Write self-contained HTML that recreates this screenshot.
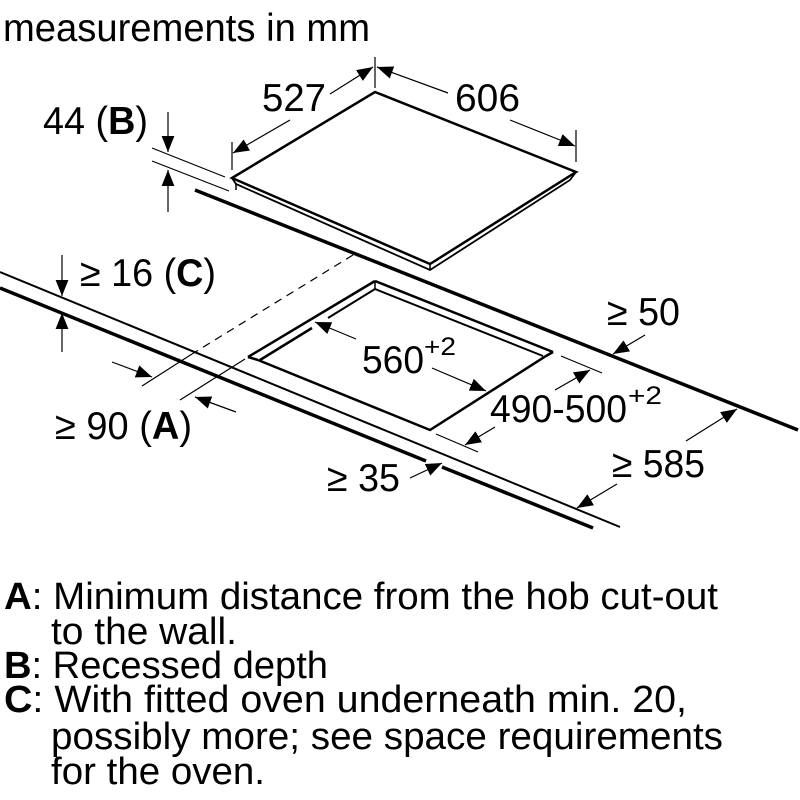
<!DOCTYPE html>
<html><head><meta charset="utf-8"><style>
html,body{margin:0;padding:0;background:#fff;}
svg{display:block;}
text{font-family:"Liberation Sans",Arial,sans-serif;fill:#000;}
</style></head><body>
<svg width="800" height="800" viewBox="0 0 800 800" xmlns="http://www.w3.org/2000/svg">
<defs>
<marker id="a" viewBox="0 0 10 10" refX="10" refY="5" markerWidth="16" markerHeight="16" markerUnits="userSpaceOnUse" orient="auto">
<path d="M0,1 L10,5 L0,9 Z" fill="#000"/></marker>
</defs>
<g stroke="#000" fill="none" stroke-linecap="butt">
<line x1="195" y1="190" x2="798" y2="430" stroke-width="3.5"/>
<polygon points="232,178 236,184 430,270 570,180 576,172 375,92" stroke="none" fill="#fff"/>
<polygon points="232,178 375,92 576,172 430,264" stroke-width="2.5" fill="#fff"/>
<polyline points="232,178 236,184 430,270 570,180 576,172" stroke-width="1.8"/>
<line x1="236" y1="184" x2="236" y2="190" stroke-width="1.5"/>
<line x1="430" y1="264" x2="430" y2="270" stroke-width="1.5"/>
<line x1="0" y1="272" x2="620" y2="527" stroke-width="2"/>
<line x1="0" y1="288" x2="426" y2="461" stroke-width="3.5"/>
<line x1="442" y1="467" x2="593" y2="528" stroke-width="3.5"/>
<polyline points="375,281 553,352" stroke-width="2.5"/>
<polyline points="248,357 375,281" stroke-width="2.5"/>
<polyline points="248,357 258,360" stroke-width="2.5"/>
<polyline points="260,360 312,328" stroke-width="2.5"/>
<polyline points="328,318 375,289 543,356" stroke-width="2"/>
<polyline points="258,360 430,430 546,356 553,352" stroke-width="2.5"/>
<line x1="375" y1="281" x2="375" y2="289" stroke-width="1.5"/>
<line x1="353" y1="255" x2="192" y2="354" stroke-width="1.2" stroke-dasharray="8,6"/>
<line x1="192" y1="354" x2="142" y2="386" stroke-width="1.2"/>
<line x1="245" y1="359" x2="180" y2="400" stroke-width="1.2"/>
<line x1="152" y1="148" x2="225" y2="177" stroke-width="1.2"/>
<line x1="152" y1="161" x2="229" y2="191" stroke-width="1.2"/>
<line x1="168" y1="112" x2="168" y2="152" stroke-width="1.2" marker-end="url(#a)"/>
<line x1="168" y1="212" x2="168" y2="170" stroke-width="1.2" marker-end="url(#a)"/>
<line x1="232" y1="142" x2="232" y2="170" stroke-width="1.2"/>
<line x1="375" y1="57" x2="375" y2="88" stroke-width="1.2"/>
<line x1="576" y1="130" x2="576" y2="162" stroke-width="1.2"/>
<line x1="290" y1="120" x2="233" y2="153" stroke-width="1.2" marker-end="url(#a)"/>
<line x1="330" y1="94" x2="373" y2="67" stroke-width="1.2" marker-end="url(#a)"/>
<line x1="448" y1="93" x2="377" y2="67" stroke-width="1.2" marker-end="url(#a)"/>
<line x1="510" y1="120" x2="575" y2="146" stroke-width="1.2" marker-end="url(#a)"/>
<line x1="62" y1="255" x2="62" y2="296" stroke-width="1.2" marker-end="url(#a)"/>
<line x1="62" y1="352" x2="62" y2="313" stroke-width="1.2" marker-end="url(#a)"/>
<line x1="112" y1="362" x2="152" y2="377" stroke-width="1.2" marker-end="url(#a)"/>
<line x1="236" y1="412" x2="195" y2="397" stroke-width="1.2" marker-end="url(#a)"/>
<line x1="356" y1="339" x2="315" y2="322" stroke-width="1.2" marker-end="url(#a)"/>
<line x1="432" y1="368" x2="486" y2="391" stroke-width="1.2" marker-end="url(#a)"/>
<line x1="561" y1="356" x2="602" y2="373" stroke-width="1.2"/>
<line x1="436" y1="434" x2="478" y2="452" stroke-width="1.2"/>
<line x1="555" y1="390" x2="590" y2="370" stroke-width="1.2" marker-end="url(#a)"/>
<line x1="495" y1="427" x2="465" y2="445" stroke-width="1.2" marker-end="url(#a)"/>
<line x1="645" y1="335" x2="613" y2="354" stroke-width="1.2" marker-end="url(#a)"/>
<line x1="686" y1="441" x2="737" y2="409" stroke-width="1.2" marker-end="url(#a)"/>
<line x1="617" y1="484" x2="577" y2="508" stroke-width="1.2" marker-end="url(#a)"/>
<line x1="410" y1="478" x2="442" y2="463" stroke-width="1.2" marker-end="url(#a)"/>
</g>
<g font-size="39">
<text x="3" y="41" textLength="367" lengthAdjust="spacingAndGlyphs">measurements in mm</text>
<text x="262" y="111" textLength="64" lengthAdjust="spacingAndGlyphs">527</text>
<text x="455" y="111" textLength="65" lengthAdjust="spacingAndGlyphs">606</text>
<text x="43" y="134" textLength="105" lengthAdjust="spacingAndGlyphs">44 (<tspan font-weight="bold">B</tspan>)</text>
<text x="80" y="286" textLength="136" lengthAdjust="spacingAndGlyphs">≥ 16 (<tspan font-weight="bold">C</tspan>)</text>
<text x="607" y="325" textLength="73" lengthAdjust="spacingAndGlyphs">≥ 50</text>
<text x="362" y="373" textLength="62" lengthAdjust="spacingAndGlyphs">560</text>
<text x="424" y="355" font-size="25" textLength="32" lengthAdjust="spacingAndGlyphs">+2</text>
<text x="490" y="422" textLength="137" lengthAdjust="spacingAndGlyphs">490-500</text>
<text x="628" y="404" font-size="25" textLength="34" lengthAdjust="spacingAndGlyphs">+2</text>
<text x="55" y="439" textLength="137" lengthAdjust="spacingAndGlyphs">≥ 90 (<tspan font-weight="bold">A</tspan>)</text>
<text x="327" y="491" textLength="73" lengthAdjust="spacingAndGlyphs">≥ 35</text>
<text x="612" y="477" textLength="93" lengthAdjust="spacingAndGlyphs">≥ 585</text>
</g>
<g font-size="38">
<text x="4" y="609" textLength="714" lengthAdjust="spacingAndGlyphs"><tspan font-weight="bold">A</tspan>: Minimum distance from the hob cut-out</text>
<text x="51" y="644" textLength="186" lengthAdjust="spacingAndGlyphs">to the wall.</text>
<text x="4" y="678" textLength="324" lengthAdjust="spacingAndGlyphs"><tspan font-weight="bold">B</tspan>: Recessed depth</text>
<text x="4" y="712" textLength="683" lengthAdjust="spacingAndGlyphs"><tspan font-weight="bold">C</tspan>: With fitted oven underneath min. 20,</text>
<text x="51" y="749" textLength="672" lengthAdjust="spacingAndGlyphs">possibly more; see space requirements</text>
<text x="51" y="784" textLength="214" lengthAdjust="spacingAndGlyphs">for the oven.</text>
</g>
</svg>
</body></html>
